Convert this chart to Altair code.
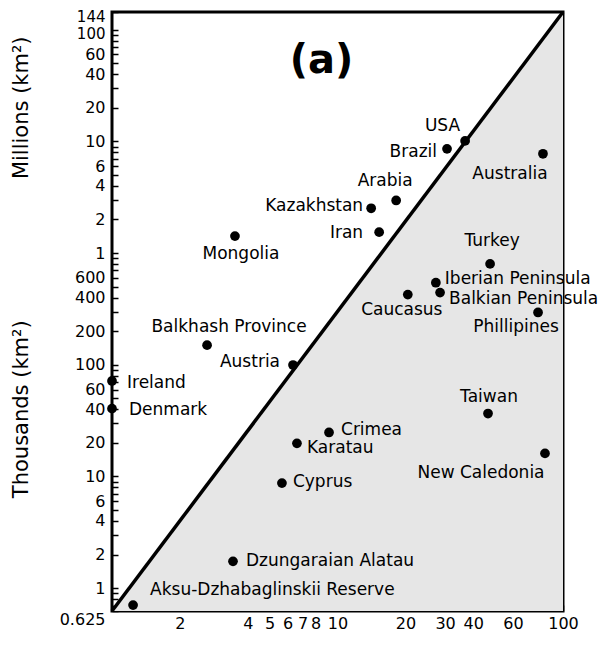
import json
import altair as alt
import pandas as pd

# ---------------- data (area in thousands of km²) ----------------
names = ["USA", "Brazil", "Australia", "Arabia", "Kazakhstan", "Iran", "Mongolia",
         "Turkey", "Iberian Peninsula", "Balkian Peninsula", "Caucasus", "Phillipines",
         "Balkhash Province", "Austria", "Ireland", "Denmark", "Taiwan", "Crimea",
         "Karatau", "New Caledonia", "Cyprus", "Dzungaraian Alatau",
         "Aksu-Dzhabaglinskii Reserve"]
x_vals = [36.8, 30.6, 81.5, 18.2, 14.1, 15.3, 3.51,
          47.5, 27.3, 28.5, 20.5, 77.5,
          2.64, 6.35, 1.0, 1.0, 46.5, 9.17,
          6.61, 83.2, 5.67, 3.44, 1.24]
y_vals = [10100, 8580, 7750, 2960, 2520, 1540, 1420,
          800, 543, 443, 425, 294,
          150, 99.5, 71.7, 40.5, 36.6, 24.8,
          19.8, 16.1, 8.73, 1.74, 0.706]

diag_x = [1, 100]
diag_y = [0.625, 144000]
diag_floor = [0.625, 0.625]

y_label_values = [0.625, 1, 2, 4, 6, 10, 20, 40, 60, 100, 200, 400, 600,
                  1000, 2000, 4000, 6000, 10000, 20000, 40000, 60000, 100000, 144000]
x_label_values = [2, 4, 5, 6, 7, 8, 10, 20, 30, 40, 60, 100]

y_ticks = sorted(set(y_label_values + [round(m * 10 ** k, 6) for k in range(-1, 6)
                                       for m in range(1, 10)
                                       if 0.625 <= m * 10 ** k <= 144000]))
x_ticks = sorted(set(x_label_values + [m * 10 ** k for k in range(0, 3)
                                       for m in range(1, 10) if m * 10 ** k <= 100]))

# ---------------- label placement (align, dx, dy) ----------------
label_place = {
    "USA": ("right", -5, -15),
    "Brazil": ("right", -10, 3),
    "Australia": ("center", -33, 20),
    "Arabia": ("center", -11, -19),
    "Kazakhstan": ("right", -8, -2),
    "Iran": ("right", -16, 1),
    "Mongolia": ("center", 6, 18),
    "Turkey": ("center", 2, -23),
    "Iberian Peninsula": ("left", 9, -4),
    "Balkian Peninsula": ("left", 9, 6),
    "Caucasus": ("center", -6, 15),
    "Phillipines": ("center", -22, 15),
    "Balkhash Province": ("center", 22, -18),
    "Austria": ("right", -13, -3),
    "Ireland": ("left", 15, 2),
    "Denmark": ("left", 17, 1),
    "Taiwan": ("center", 1, -17),
    "Crimea": ("left", 12, -2),
    "Karatau": ("left", 10, 5),
    "New Caledonia": ("center", -64, 20),
    "Cyprus": ("left", 11, -1),
    "Dzungaraian Alatau": ("left", 13, 0),
    "Aksu-Dzhabaglinskii Reserve": ("left", 17, -15),
}

FONT = "DejaVu Sans"

pts = pd.DataFrame({"name": names, "x": x_vals, "y": y_vals})
diag = pd.DataFrame({"x": diag_x, "y": diag_y, "y2": diag_floor})

ylabs = json.dumps(y_label_values)
xlabs = json.dumps(x_label_values)

x_axis = alt.Axis(
    values=x_ticks, orient="bottom", offset=-6, tickSize=6, tickWidth=1.5,
    tickColor="black", domain=False, grid=False, labelPadding=4,
    labelFontSize=16, labelFont=FONT, labelColor="black", labelOverlap=False,
    labelFlush=False, title=None,
    labelExpr=f"indexof({xlabs}, datum.value) >= 0 ? format(datum.value, '') : ''",
)
y_axis = alt.Axis(
    values=y_ticks, orient="left", offset=-6, tickSize=6, tickWidth=1.5,
    tickColor="black", domain=False, grid=False, labelPadding=7,
    labelFontSize={"condition": {"test": "datum.value >= 100000", "value": 15}, "value": 16},
    labelFont=FONT, labelColor="black", labelOverlap=False,
    labelFlush=False, title=None,
    labelBaseline={"condition": {"test": "datum.value < 0.7", "value": "top"}, "value": "middle"},
    labelOffset={"condition": {"test": "datum.value >= 100000", "value": 4}, "value": 0},
    labelExpr=(f"indexof({ylabs}, datum.value) >= 0 ? "
               "(datum.value >= 1000 ? format(datum.value/1000, '') : format(datum.value, '')) : ''"),
)

x_scale = alt.Scale(type="log", domain=[1, 100], nice=False, zero=False)
y_scale = alt.Scale(type="log", domain=[0.625, 144000], nice=False, zero=False)


def X(field="x"):
    return alt.X(f"{field}:Q", scale=x_scale, axis=x_axis)


def Y(field="y"):
    return alt.Y(f"{field}:Q", scale=y_scale, axis=y_axis)


area = alt.Chart(diag).mark_area(color="#e6e6e6", opacity=1).encode(
    x=X(), y=Y(), y2="y2:Q"
)
line = alt.Chart(diag).mark_line(color="black", strokeWidth=3.5).encode(x=X(), y=Y())
dots = alt.Chart(pts).mark_circle(color="black", opacity=1, size=95).encode(x=X(), y=Y())

text_layers = []
for n in names:
    al, dx, dy = label_place[n]
    text_layers.append(
        alt.Chart(pts).transform_filter(alt.datum.name == n).mark_text(
            align=al, baseline="middle", dx=dx, dy=dy, font=FONT, fontSize=17,
            color="black"
        ).encode(x=X(), y=Y(), text="name:N")
    )

annot = pd.DataFrame({"t": ["(a)"], "x": [8.5], "y": [52000]})
panel = alt.Chart(annot).mark_text(
    font=FONT, fontSize=40, fontWeight="bold", align="center", baseline="middle",
    color="black"
).encode(x=X(), y=Y(), text="t:N")

titles = pd.DataFrame({"t": ["Millions (km²)", "Thousands (km²)"], "y": [20000, 40]})
ytitles = alt.Chart(titles).mark_text(
    font=FONT, fontSize=21, angle=270, align="center", baseline="middle", color="black"
).encode(x=alt.value(-90), y=Y(), text="t:N")

chart = alt.layer(area, line, dots, *text_layers, panel, ytitles).properties(
    width=451, height=599,
    autosize=alt.AutoSizeParams(type="none"),
    padding={"left": 104, "top": 4, "right": 40, "bottom": 22},
).configure(background="white").configure_view(stroke="black", strokeWidth=3)

chart.save("out.html", embed_options={"renderer": "svg", "actions": False})
